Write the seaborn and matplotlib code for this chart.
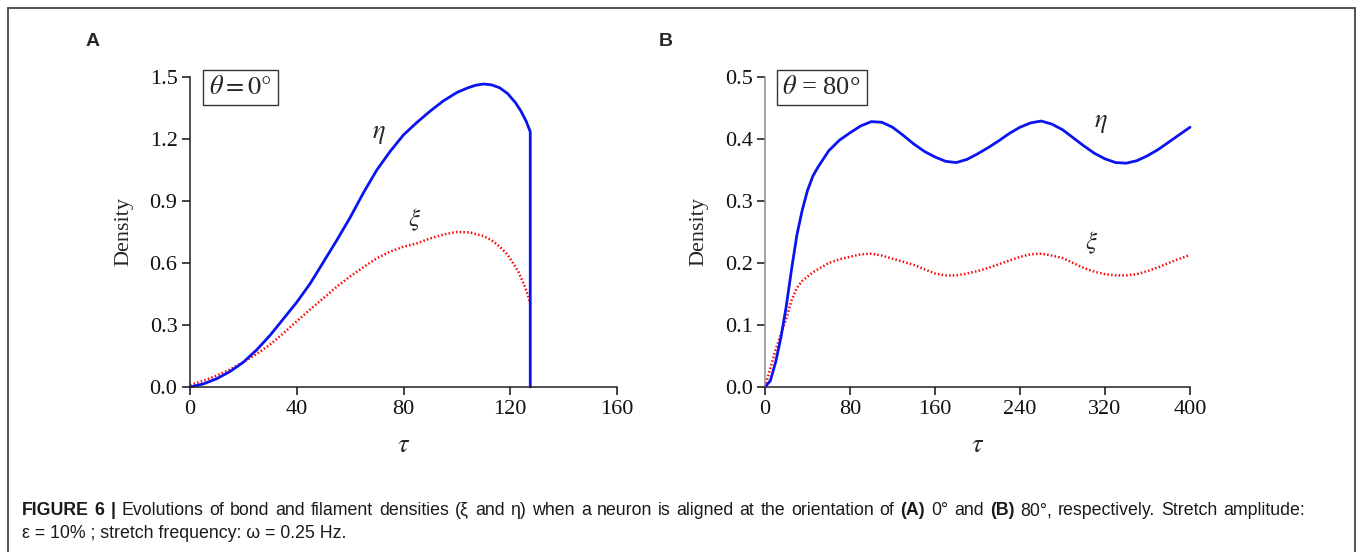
import numpy as np
import pandas as pd
import matplotlib
matplotlib.use("Agg")
import matplotlib.pyplot as plt
from matplotlib.patches import Rectangle
import seaborn as sns

# ---------------- data ----------------
tau_a_eta = [0, 5, 10, 15, 20, 25, 30, 35, 40, 45, 50, 55, 60, 65, 70, 75, 80, 85, 90,
             95, 100, 104, 107, 110, 113, 116, 119, 122, 124, 126, 127.5, 127.5]
eta_a = [0, 0.015, 0.04, 0.075, 0.12, 0.18, 0.25, 0.33, 0.41, 0.50, 0.605, 0.71, 0.82,
         0.94, 1.05, 1.14, 1.22, 1.28, 1.335, 1.385, 1.425, 1.447, 1.46, 1.466, 1.462,
         1.448, 1.42, 1.375, 1.335, 1.285, 1.235, 0.0]

tau_a_xi = [0, 5, 10, 15, 20, 25, 30, 35, 40, 45, 50, 55, 60, 65, 70, 75, 80, 85, 90,
            95, 100, 105, 110, 113, 116, 119, 121, 123, 125, 126.5, 127.5]
xi_a = [0.01, 0.03, 0.055, 0.085, 0.12, 0.16, 0.205, 0.26, 0.318, 0.375, 0.43, 0.485,
        0.535, 0.58, 0.623, 0.655, 0.679, 0.695, 0.719, 0.738, 0.75, 0.748, 0.73, 0.71,
        0.68, 0.64, 0.60, 0.56, 0.50, 0.45, 0.40]

tau_b = [0, 5, 10, 15, 20, 25, 30, 35, 40, 45, 50, 60, 70, 80, 90, 100, 110, 120, 130,
         140, 150, 160, 170, 180, 190, 200, 210, 220, 230, 240, 250, 260, 270, 280, 290,
         300, 310, 320, 330, 340, 350, 360, 370, 380, 390, 400]
eta_b = [0, 0.01, 0.04, 0.08, 0.13, 0.19, 0.245, 0.285, 0.317, 0.34, 0.355, 0.381, 0.398,
         0.41, 0.421, 0.428, 0.427, 0.419, 0.406, 0.392, 0.38, 0.371, 0.364, 0.362, 0.367,
         0.376, 0.386, 0.397, 0.409, 0.419, 0.426, 0.429, 0.424, 0.415, 0.402, 0.389,
         0.377, 0.368, 0.362, 0.361, 0.365, 0.373, 0.383, 0.395, 0.407, 0.419]
xi_b = [0, 0.03, 0.06, 0.085, 0.11, 0.14, 0.16, 0.171, 0.178, 0.185, 0.19, 0.2, 0.206,
        0.21, 0.214, 0.215, 0.212, 0.207, 0.202, 0.197, 0.19, 0.183, 0.18, 0.18, 0.183,
        0.187, 0.192, 0.198, 0.204, 0.21, 0.214, 0.215, 0.212, 0.208, 0.2, 0.192, 0.186,
        0.182, 0.18, 0.18, 0.182, 0.187, 0.193, 0.2, 0.207, 0.213]

xticks_a = [0, 40, 80, 120, 160]
yticks_a = [0.0, 0.3, 0.6, 0.9, 1.2, 1.5]
xticks_b = [0, 80, 160, 240, 320, 400]
yticks_b = [0.0, 0.1, 0.2, 0.3, 0.4, 0.5]

# ---------------- style ----------------
sns.set_style("ticks")
plt.rcParams['font.family'] = ['Liberation Serif', 'DejaVu Serif']
plt.rcParams['mathtext.fontset'] = 'stix'

fig = plt.figure(figsize=(13.6, 5.52), dpi=100)
fig.patch.set_facecolor('white')

# outer frame
fig.patches.append(Rectangle((8 / 1360, -0.05), (1355 - 8) / 1360, 1 - 8 / 552 + 0.05,
                             transform=fig.transFigure, fill=False, edgecolor='#444444',
                             linewidth=1.3, figure=fig))

axA = fig.add_axes([190 / 1360, 1 - 387 / 552, 427 / 1360, 310 / 552])
axB = fig.add_axes([765 / 1360, 1 - 387 / 552, 425 / 1360, 310 / 552])

dfA_eta = pd.DataFrame({'tau': tau_a_eta, 'val': eta_a})
dfA_xi = pd.DataFrame({'tau': tau_a_xi, 'val': xi_a})
dfB = pd.DataFrame({'tau': tau_b, 'eta': eta_b, 'xi': xi_b})

sns.lineplot(data=dfA_xi, x='tau', y='val', ax=axA, color='red', linewidth=1.8,
             linestyle=(0, (0.6, 0.9)), sort=False, estimator=None)
sns.lineplot(data=dfA_eta, x='tau', y='val', ax=axA, color='#0a14f0', linewidth=2.0,
             sort=False, estimator=None)
sns.lineplot(data=dfB, x='tau', y='xi', ax=axB, color='red', linewidth=1.8,
             linestyle=(0, (0.6, 0.9)), sort=False, estimator=None)
sns.lineplot(data=dfB, x='tau', y='eta', ax=axB, color='#0a14f0', linewidth=2.0,
             sort=False, estimator=None)

for ax, xt, yt, xl, yl in [(axA, xticks_a, yticks_a, (0, 160), (0, 1.5)),
                           (axB, xticks_b, yticks_b, (0, 400), (0, 0.5))]:
    ax.set_xlim(*xl)
    ax.set_ylim(*yl)
    ax.set_xticks(xt)
    ax.set_yticks(yt)
    ax.set_xticklabels([str(v) for v in xt])
    ax.set_yticklabels([f"{v:.1f}" for v in yt])
    ax.tick_params(direction='out', length=6, width=1.1, labelsize=16, colors='#111111',
                   pad=3)
    for s in ['top', 'right']:
        ax.spines[s].set_visible(False)
    for s in ['left', 'bottom']:
        ax.spines[s].set_color('#222222')
        ax.spines[s].set_linewidth(1.1)
    ax.set_xlabel(r"$\tau$", fontsize=19, labelpad=12)
    ax.set_ylabel("Density", fontsize=16, labelpad=12)
    ax.set_facecolor('white')
    for ln in ax.get_lines():
        ln.set_clip_on(False)
axB.spines['left'].set_color('#8a8a8a')

# curve labels
axA.text(70.8, 1.22, r"$\eta$", fontsize=19, ha='center', va='center')
axA.text(84, 0.81, r"$\xi$", fontsize=18, ha='center', va='center')
axB.text(316, 0.424, r"$\eta$", fontsize=19, ha='center', va='center')
axB.text(307, 0.232, r"$\xi$", fontsize=18, ha='center', va='center')

# theta boxes
box = dict(boxstyle='square,pad=0.22', facecolor='white', edgecolor='#333333', linewidth=1.0)
axA.text(0.045, 0.966, r"$\theta=0°$", transform=axA.transAxes, fontsize=19,
         ha='left', va='center', bbox=box)
axB.text(0.041, 0.966, r"$\theta$ = 80°", transform=axB.transAxes, fontsize=19,
         ha='left', va='center', bbox=box)

# panel letters
fig.text(93 / 1360, 1 - 41 / 552, "A", fontsize=14, fontweight='bold',
         family='Liberation Sans', ha='center', va='center')
fig.text(666 / 1360, 1 - 41 / 552, "B", fontsize=14, fontweight='bold',
         family='Liberation Sans', ha='center', va='center')

# caption with mixed bold (first line justified)
fig.canvas.draw()
renderer = fig.canvas.get_renderer()
CAP_SIZE = 12.8


def make_text(x, y, txt, bold):
    return fig.text(x / 1360, 1 - y / 552, txt, fontsize=CAP_SIZE,
                    fontweight='bold' if bold else 'normal',
                    family=['Liberation Sans', 'DejaVu Sans'], ha='left', va='baseline',
                    color='#1a1a1a')


def draw_line(pieces, x0, y, x1=None):
    words = []
    for txt, bold in pieces:
        for w in txt.split(' '):
            if w:
                words.append((w, bold))
    texts = [make_text(x0, y, w, b) for w, b in words]
    widths = [t.get_window_extent(renderer=renderer).width for t in texts]
    gap = (x1 - x0 - sum(widths)) / (len(words) - 1)
    x = x0
    for t, w in zip(texts, widths):
        t.set_x(x / 1360)
        x += w + gap


line1 = [("FIGURE 6 | ", True),
         ("Evolutions of bond and filament densities (ξ and η) when a neuron is aligned at the orientation of ", False),
         ("(A)", True), (" 0° and ", False), ("(B)", True),
         (" 80°, respectively. Stretch amplitude:", False)]
line2 = "ε = 10% ; stretch frequency: ω = 0.25 Hz."
draw_line(line1, 22, 515, x1=1305)
make_text(22, 538, line2, False)

fig.savefig("out.png", dpi=100, facecolor='white')
